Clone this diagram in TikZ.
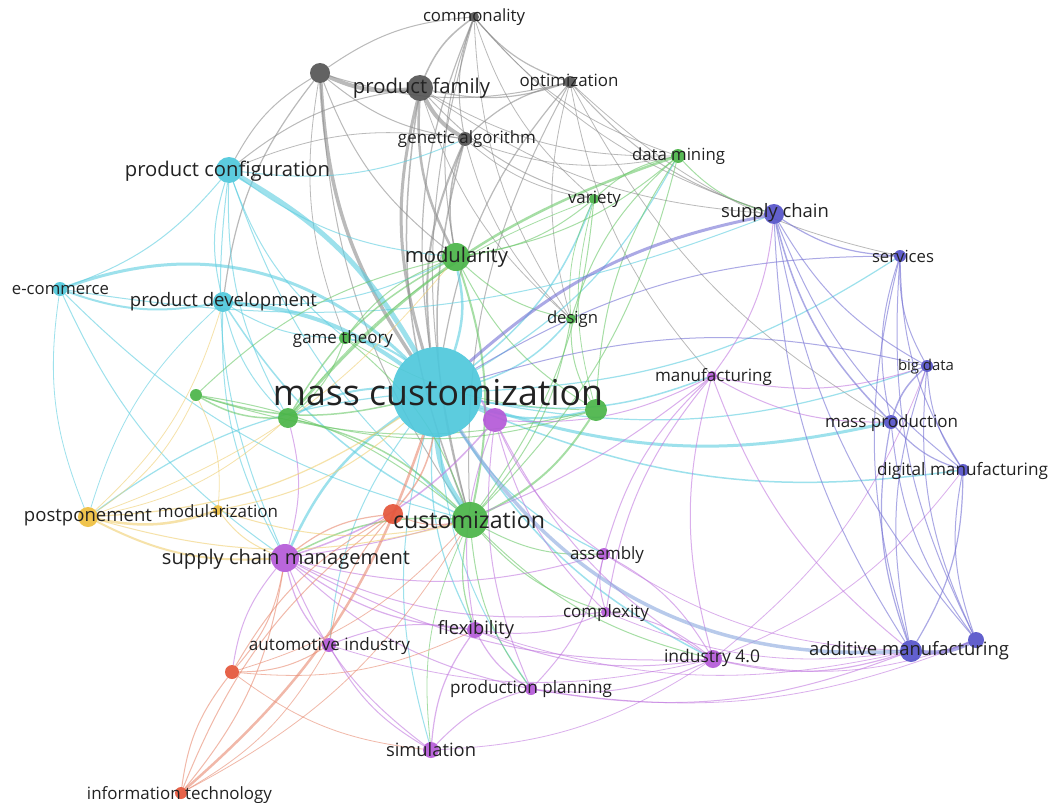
\documentclass[tikz,border=0pt]{standalone}
\usepackage{fontspec}
\setmainfont{Open Sans}
\usetikzlibrary{backgrounds}
\definecolor{ngrey}{HTML}{555555}
\definecolor{ncyan}{HTML}{4FC8DC}
\definecolor{ngreen}{HTML}{4AB548}
\definecolor{npurp}{HTML}{B55AD8}
\definecolor{nblue}{HTML}{5553C9}
\definecolor{nred}{HTML}{E4553A}
\definecolor{nyel}{HTML}{EFC03E}
\definecolor{egrey}{HTML}{8C8C8C}
\definecolor{ecyan}{HTML}{5CCDE0}
\definecolor{egreen}{HTML}{6CC86A}
\definecolor{epurp}{HTML}{C27AE0}
\definecolor{eblue}{HTML}{7470D4}
\definecolor{emix}{HTML}{8AA8DE}
\definecolor{ered}{HTML}{E88A70}
\definecolor{eyel}{HTML}{F0CF70}
\definecolor{txt}{HTML}{222222}
\newcommand\fitw[2]{\resizebox{#1pt}{!}{#2}}
\begin{document}
\begin{tikzpicture}[x=1pt,y=-1pt,
  nd/.style={circle,inner sep=0pt,fill=#1,fill opacity=0.92,draw=none},
  lbl/.style={inner sep=0pt,text=txt},
  e/.style={draw=#1,draw opacity=0.6,line cap=round}]
\useasboundingbox (0,0) rectangle (1052,803);
% ---- circles ----
\node[nd=ngrey,minimum size=10pt] (com) at (474,17) {};
\node[nd=ngrey,minimum size=20pt] (g1) at (320,73) {};
\node[nd=ngrey,minimum size=26pt] (pf) at (420,88) {};
\node[nd=ngrey,minimum size=12pt] (opt) at (570,82) {};
\node[nd=ngrey,minimum size=14pt] (ga) at (465,139) {};
\node[nd=ncyan,minimum size=26pt] (pc) at (229,170) {};
\node[nd=ngreen,minimum size=14pt] (dm) at (678,156) {};
\node[nd=ngreen,minimum size=10pt] (var) at (594,199) {};
\node[nd=nblue,minimum size=20pt] (sc) at (774,214) {};
\node[nd=ngreen,minimum size=28pt] (mod) at (456,257) {};
\node[nd=nblue,minimum size=12pt] (ser) at (900,256) {};
\node[nd=ncyan,minimum size=14pt] (ec) at (60,289) {};
\node[nd=ncyan,minimum size=20pt] (pd) at (223,302) {};
\node[nd=ngreen,minimum size=10pt] (des) at (571,319) {};
\node[nd=ngreen,minimum size=12pt] (gt) at (345,338) {};
\node[nd=npurp,minimum size=10pt] (man) at (712,376) {};
\node[nd=nblue,minimum size=12pt] (bd) at (927,366) {};
\node[nd=ngreen,minimum size=12pt] (g2) at (196,395) {};
\node[nd=ncyan,minimum size=90pt] (mc) at (437,392) {};
\node[nd=npurp,minimum size=24pt] (p1) at (495,420) {};
\node[nd=ngreen,minimum size=20pt] (g3) at (288,418) {};
\node[nd=ngreen,minimum size=22pt] (g4) at (596,410) {};
\node[nd=nblue,minimum size=14pt] (mp) at (891,422) {};
\node[nd=nblue,minimum size=12pt] (dmf) at (963,470) {};
\node[nd=nyel,minimum size=20pt] (post) at (88,517) {};
\node[nd=nyel,minimum size=10pt] (mzn) at (218,510) {};
\node[nd=nred,minimum size=20pt] (r1) at (393,514) {};
\node[nd=ngreen,minimum size=36pt] (cus) at (470,520) {};
\node[nd=npurp,minimum size=28pt] (scm) at (285,558) {};
\node[nd=npurp,minimum size=12pt] (asm) at (604,554) {};
\node[nd=npurp,minimum size=10pt] (cpx) at (606,612) {};
\node[nd=npurp,minimum size=16pt] (flex) at (475,630) {};
\node[nd=npurp,minimum size=14pt] (auto) at (329,645) {};
\node[nd=nred,minimum size=14pt] (r2) at (232,672) {};
\node[nd=npurp,minimum size=18pt] (i40) at (713,659) {};
\node[nd=nblue,minimum size=22pt] (am) at (911,651) {};
\node[nd=nblue,minimum size=16pt] (b1) at (976,640) {};
\node[nd=npurp,minimum size=12pt] (pp) at (531,689) {};
\node[nd=npurp,minimum size=16pt] (sim) at (431,750) {};
\node[nd=nred,minimum size=12pt] (it) at (181,793) {};
% ---- labels ----
\node[lbl] (l-com) at (474,17) {\fitw{102}{commonality}};
\node[lbl] (l-pf) at (421.5,88) {\fitw{137}{product family}};
\node[lbl] (l-opt) at (569,82) {\fitw{99}{optimization}};
\node[lbl] (l-ga) at (467,139) {\fitw{138}{genetic algorithm}};
\node[lbl] (l-pc) at (227.5,171) {\fitw{205}{product configuration}};
\node[lbl] (l-dm) at (678.5,156) {\fitw{93}{data mining}};
\node[lbl] (l-var) at (594.5,199) {\fitw{53}{variety}};
\node[lbl] (l-sc) at (775,213) {\fitw{108}{supply chain}};
\node[lbl] (l-mod) at (456.5,257) {\fitw{103}{modularity}};
\node[lbl] (l-ser) at (903,256) {\fitw{62}{services}};
\node[lbl] (l-ec) at (60.5,290) {\fitw{97}{e-commerce}};
\node[lbl] (l-pd) at (223.5,302) {\fitw{187}{product development}};
\node[lbl] (l-des) at (572.5,319) {\fitw{51}{design}};
\node[lbl] (l-gt) at (343,339) {\fitw{100}{game theory}};
\node[lbl] (l-man) at (713.5,377) {\fitw{117}{manufacturing}};
\node[lbl] (l-bd) at (926,367) {\fitw{56}{big data}};
\node[lbl] (l-mc) at (438,393) {\fitw{330}{mass customization}};
\node[lbl] (l-mp) at (891.5,423) {\fitw{133}{mass production}};
\node[lbl] (l-dmf) at (962.5,471) {\fitw{171}{digital manufacturing}};
\node[lbl] (l-post) at (88,518) {\fitw{128}{postponement}};
\node[lbl] (l-mzn) at (218,511) {\fitw{120}{modularization}};
\node[lbl] (l-cus) at (469,520) {\fitw{152}{customization}};
\node[lbl] (l-scm) at (286,559) {\fitw{248}{supply chain management}};
\node[lbl] (l-asm) at (607,555) {\fitw{74}{assembly}};
\node[lbl] (l-cpx) at (606,613) {\fitw{86}{complexity}};
\node[lbl] (l-flex) at (476,630) {\fitw{76}{flexibility}};
\node[lbl] (l-auto) at (329.5,646) {\fitw{161}{automotive industry}};
\node[lbl] (l-i40) at (712,658) {\fitw{96}{industry 4.0}};
\node[lbl] (l-am) at (909,651) {\fitw{200}{additive manufacturing}};
\node[lbl] (l-pp) at (531,689) {\fitw{162}{production planning}};
\node[lbl] (l-sim) at (431,750) {\fitw{90}{simulation}};
\node[lbl] (l-it) at (179.5,795) {\fitw{185}{information technology}};
% ---- edges ----
\begin{scope}[on background layer]
\fill[white] (0,0) rectangle (1052,803);
\foreach \a/\b/\w in {com/pf/1.5, com/g1/1, com/opt/1.2, com/ga/1, com/mod/1, com/mc/1.2, com/dm/0.8, com/des/0.8, com/cus/1, com/var/0.8, com/sc/0.8,
 g1/pf/4, g1/mc/3.5, g1/pc/1, g1/pd/1.2, g1/ga/1, g1/opt/1, g1/mod/1, g1/cus/1, g1/gt/0.8,
 pf/ga/4, pf/mc/3, pf/mod/2.5, pf/opt/1.2, pf/cus/1.5, pf/pc/1, pf/var/1, pf/des/0.8, pf/sc/0.8, pf/dm/0.8,
 opt/ga/1.2, opt/sc/1, opt/mc/1.2, opt/cus/1, opt/des/0.8, opt/man/0.8, opt/ser/0.8, opt/mp/0.8,
 ga/mc/2, ga/mod/1.5, ga/cus/1.5, ga/des/0.8, ga/pc/0.8, ga/dm/0.8, ga/var/0.8}
  \draw[e=egrey,line width=\w pt] (\a) to[bend right=15] (\b);
\foreach \a/\b/\w in {mc/pc/5, mc/pd/4, mc/cus/5, mc/mod/2.5, mc/scm/2.5, mc/mp/3, mc/dmf/1.5, mc/i40/1.5, mc/gt/2, mc/g3/2, mc/g4/2, mc/des/1.5, mc/man/1.5, mc/bd/1.2, mc/ser/1.2, mc/post/1.2, mc/asm/1.2, mc/flex/1.2, mc/pp/1, mc/auto/1, mc/sim/1, mc/var/1.5, mc/dm/1.2,
 ec/pc/1, ec/pd/2, ec/sc/1, ec/scm/1, ec/cus/1, ec/post/0.8,
 pc/pd/1, pc/mod/1, pc/cus/1, pc/gt/1, pc/scm/1, pc/g3/1, pc/ga/1,
 pd/mod/1, pd/cus/1.5, pd/gt/1, pd/scm/1, pd/g3/1, pd/post/0.8}
  \draw[e=ecyan,line width=\w pt] (\a) to[bend right=15] (\b);
\draw[e=ecyan,line width=3pt] (mc) to[bend right=32] (ec);
\foreach \a/\b/\w in {cus/mod/2, cus/g3/1.5, cus/g4/2, cus/dm/1, cus/var/1, cus/des/1, cus/gt/1, cus/scm/1.5, cus/flex/1.2, cus/asm/1, cus/cpx/1, cus/pp/1, cus/g2/1, cus/sim/0.8, cus/i40/1,
 mod/var/1, mod/des/1, mod/dm/1, mod/g2/1, mod/g3/1.5, mod/g4/1, mod/gt/1,
 g2/mc/1.5, g2/g3/1.5, g2/g4/1, g3/g4/1, g3/gt/1,
 dm/var/1, dm/sc/1, dm/des/1, dm/g4/1, dm/g3/2.5,
 var/des/0.8, var/g4/0.8, var/g3/0.8, des/g4/1, gt/g4/0.8}
  \draw[e=egreen,line width=\w pt] (\a) to[bend right=15] (\b);
\foreach \a/\b/\w in {scm/auto/1.2, scm/flex/1.2, scm/sim/1, scm/p1/1.5, scm/asm/1, scm/cpx/1, scm/i40/1, scm/r2/1, scm/man/1, scm/pp/1, scm/g3/1,
 p1/mc/2, p1/asm/1, p1/flex/1, p1/man/1, p1/cpx/1, p1/i40/1, p1/pp/1,
 man/sc/1, man/mp/1, man/i40/1, man/cpx/1, man/bd/1, man/am/1, man/asm/1,
 flex/sim/1.2, flex/pp/1.2, flex/auto/1, flex/cpx/1, flex/i40/1, flex/am/0.8,
 pp/sim/1, pp/i40/1, pp/am/1, pp/asm/1, pp/b1/0.8,
 i40/am/1.2, i40/bd/0.8, i40/dmf/0.8, i40/asm/1, i40/cpx/1, i40/b1/0.8,
 asm/cpx/1, asm/am/0.8, auto/sim/1, auto/i40/0.8, sim/i40/0.8, cpx/am/0.8}
  \draw[e=epurp,line width=\w pt] (\a) to[bend right=15] (\b);
\foreach \a/\b/\w in {sc/mc/3, sc/ser/1.2, sc/bd/1, sc/mp/1.5, sc/dmf/1, sc/am/1, sc/b1/1,
 ser/bd/1, ser/mp/1, ser/dmf/1, ser/b1/1, ser/am/1, ser/mc/1,
 bd/mp/1.5, bd/dmf/1, bd/am/1, bd/b1/1, bd/mc/1,
 mp/dmf/1.2, mp/am/1.2, mp/b1/1,
 am/b1/4, am/dmf/1.2, dmf/b1/1}
  \draw[e=eblue,line width=\w pt] (\a) to[bend right=15] (\b);
\draw[e=emix,line width=3.5pt] (mc) to[bend right=30] (am);
\foreach \a/\b/\w in {r1/mc/1.5, r1/cus/1, r1/scm/1.2, r1/it/1, r1/r2/1, r1/auto/1,
 r2/it/1, r2/scm/1, r2/auto/1, r2/sim/0.8, r2/flex/0.8, r2/cus/0.8,
 it/mc/2.5, it/scm/1, it/auto/0.8, it/cus/0.8}
  \draw[e=ered,line width=\w pt] (\a) to[bend right=15] (\b);
\foreach \a/\b/\w in {post/mzn/2.5, post/scm/2, post/mc/1.2, post/cus/1, post/pd/0.8, post/g2/0.8, post/mod/0.8, post/g3/0.8,
 mzn/scm/1, mzn/mc/1, mzn/cus/1, mzn/g2/0.8}
  \draw[e=eyel,line width=\w pt] (\a) to[bend right=15] (\b);
\end{scope}
\end{tikzpicture}
\end{document}
